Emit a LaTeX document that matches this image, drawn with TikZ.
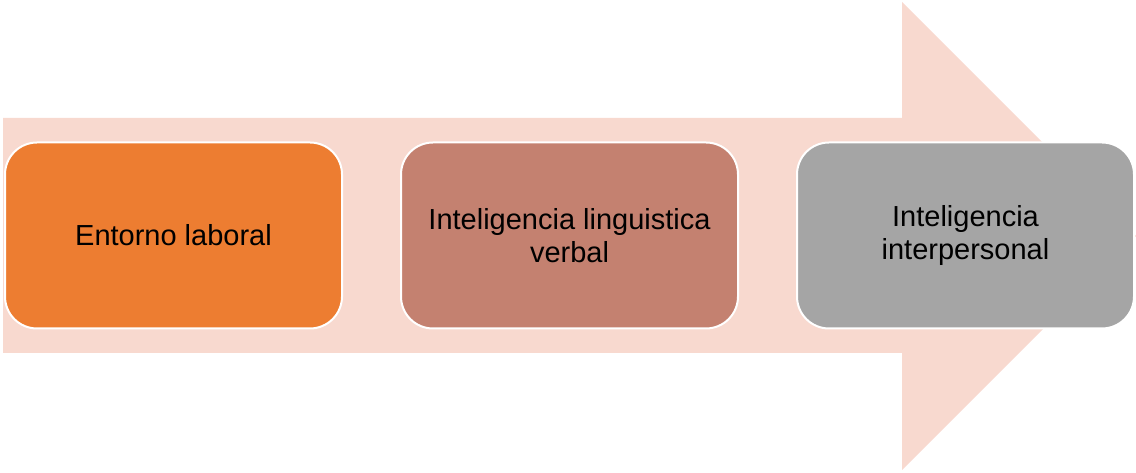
\documentclass[tikz,border=0pt]{standalone}
\usepackage{fontspec}
\setmainfont{Liberation Sans}
\usetikzlibrary{positioning}
\definecolor{arrowfill}{HTML}{F8D9CF}
\definecolor{stepone}{HTML}{ED7D31}
\definecolor{steptwo}{HTML}{C48170}
\definecolor{stepthree}{HTML}{A5A5A5}

\begin{document}
\begin{tikzpicture}[x=1pt,y=1pt,node distance=57pt,
	stagebox/.style={rectangle, rounded corners=32pt, draw=white, line width=2pt,
		minimum width=337pt, minimum height=186pt, align=center,
		font=\fontsize{29}{33}\selectfont, text=black}]
	\useasboundingbox (0,0) rectangle (1136,473);
	% big background arrow
	\fill[arrowfill] (3,120) -- (3,355) -- (902,355) -- (902,471) -- (1136,237)
		-- (902,3) -- (902,120) -- cycle;
	\node[stagebox, fill=stepone]   (entorno)       at (173.5,237.5)     {Entorno laboral};
	\node[stagebox, fill=steptwo]   (linguistica)   [right=of entorno]     {Inteligencia linguistica\\verbal};
	\node[stagebox, fill=stepthree] (interpersonal) [right=of linguistica] {Inteligencia\\interpersonal};
\end{tikzpicture}
\end{document}
